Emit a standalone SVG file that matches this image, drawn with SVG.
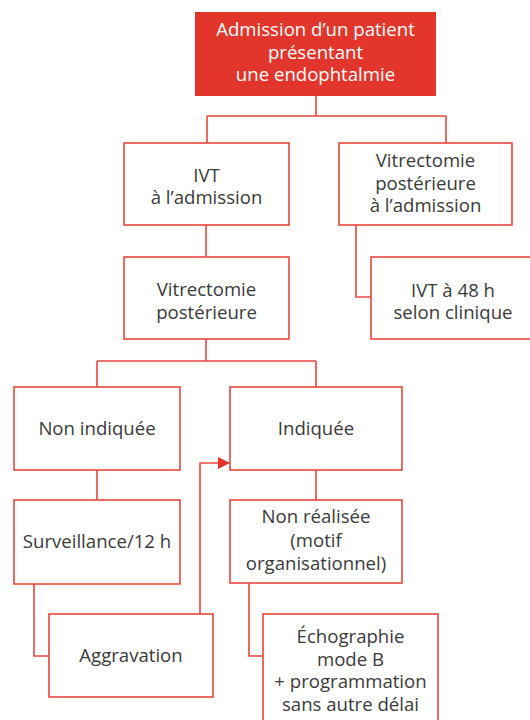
<svg xmlns="http://www.w3.org/2000/svg" width="530" height="720" viewBox="0 0 530 720">
  <style>
    .box { fill: #ffffff; stroke: #e8463e; stroke-width: 1.6; }
    .head { fill: #e2362c; stroke: none; }
    .lbl { font-family: "Open Sans", "Noto Sans", "DejaVu Sans", sans-serif; font-size: 18.6px; fill: #3a3a3a; text-anchor: middle; }
    .lbl.inv { fill: #ffffff; }
    .wire { fill: none; stroke: #e8463e; stroke-width: 1.6; }
  </style>
  <defs>
    <marker id="arrow" viewBox="0 0 12 12" refX="12" refY="6" markerWidth="12" markerHeight="12" markerUnits="userSpaceOnUse" orient="auto">
      <path d="M0,0 L12,6 L0,12 Z" fill="#e2362c"/>
    </marker>
  </defs>

  <rect width="530" height="720" fill="#ffffff"/>

  <!-- connectors -->
  <g id="connectors">
    <path class="wire" d="M316,96 V116 M207,116 H446 M207,116 V143 M446,116 V143"/>
    <path class="wire" d="M206,225 V257"/>
    <path class="wire" d="M356,225 V297 H371"/>
    <path class="wire" d="M206,339 V361 M97,361 H316 M97,361 V387 M316,361 V387"/>
    <path class="wire" d="M97,470 V500"/>
    <path class="wire" d="M34,584 V656 H49"/>
    <path class="wire" d="M316,470 V500"/>
    <path class="wire" d="M249,583 V656 H263"/>
    <path class="wire" d="M200,614 V463 H230" marker-end="url(#arrow)"/>
  </g>

  <!-- nodes -->
  <g id="admission">
    <rect class="head" x="195" y="12" width="241" height="84"/>
    <text class="lbl inv" x="315.5" y="36">Admission d’un patient</text>
    <text class="lbl inv" x="315.5" y="58.5">présentant</text>
    <text class="lbl inv" x="315.5" y="81">une endophtalmie</text>
  </g>

  <g id="ivt-admission">
    <rect class="box" x="124" y="143" width="165" height="82"/>
    <text class="lbl" x="206.5" y="182">IVT</text>
    <text class="lbl" x="206.5" y="204">à l’admission</text>
  </g>

  <g id="vitrectomie-admission">
    <rect class="box" x="339" y="143" width="173" height="82"/>
    <text class="lbl" x="425.5" y="167">Vitrectomie</text>
    <text class="lbl" x="425.5" y="189.5">postérieure</text>
    <text class="lbl" x="425.5" y="212">à l’admission</text>
  </g>

  <g id="ivt-48h">
    <rect class="box" x="371" y="257" width="165" height="82"/>
    <text class="lbl" x="453" y="297">IVT à 48 h</text>
    <text class="lbl" x="453" y="319">selon clinique</text>
  </g>

  <g id="vitrectomie">
    <rect class="box" x="124" y="257" width="165" height="82"/>
    <text class="lbl" x="206.5" y="296">Vitrectomie</text>
    <text class="lbl" x="206.5" y="318.5">postérieure</text>
  </g>

  <g id="non-indiquee">
    <rect class="box" x="14" y="387" width="166" height="83"/>
    <text class="lbl" x="97" y="435">Non indiquée</text>
  </g>

  <g id="indiquee">
    <rect class="box" x="230" y="387" width="172" height="83"/>
    <text class="lbl" x="316" y="435">Indiquée</text>
  </g>

  <g id="surveillance">
    <rect class="box" x="14" y="500" width="166" height="84"/>
    <text class="lbl" x="97" y="548">Surveillance/12 h</text>
  </g>

  <g id="aggravation">
    <rect class="box" x="49" y="614" width="164" height="83"/>
    <text class="lbl" x="131" y="662">Aggravation</text>
  </g>

  <g id="non-realisee">
    <rect class="box" x="230" y="500" width="172" height="83"/>
    <text class="lbl" x="316" y="523">Non réalisée</text>
    <text class="lbl" x="316" y="547">(motif</text>
    <text class="lbl" x="316" y="570">organisationnel)</text>
  </g>

  <g id="echographie">
    <rect class="box" x="263" y="614" width="175" height="120"/>
    <text class="lbl" x="350.5" y="643">Échographie</text>
    <text class="lbl" x="350.5" y="665.5">mode B</text>
    <text class="lbl" x="350.5" y="688">+ programmation</text>
    <text class="lbl" x="350.5" y="710.5">sans autre délai</text>
  </g>
</svg>
